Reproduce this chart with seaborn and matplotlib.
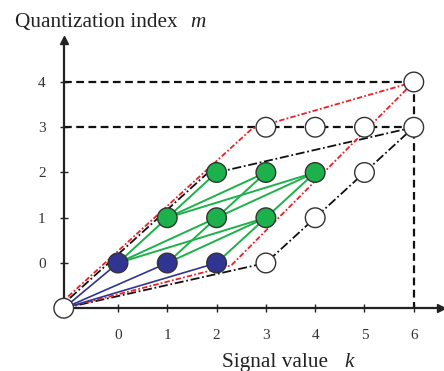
import matplotlib
matplotlib.use("Agg")
import matplotlib.pyplot as plt
import pandas as pd
import seaborn as sns

# trellis nodes (signal value k, quantization index m)
origin = (-1.1, -1)
blue_k = [0, 1, 2]
blue_m = [0, 0, 0]
green_k = [1, 2, 3, 2, 3, 4]
green_m = [1, 1, 1, 2, 2, 2]
white_k = [3, 4, 5, 3, 4, 5, 6, 6]
white_m = [0, 1, 2, 3, 3, 3, 3, 4]

# green transitions: (k_from, m_from) -> (k_to, m_to)
green_from = [(0, 0), (0, 0), (0, 0), (1, 0), (1, 0), (2, 0),
              (1, 1), (1, 1), (1, 1), (2, 1), (2, 1), (3, 1)]
green_to = [(1, 1), (2, 1), (3, 1), (2, 1), (3, 1), (3, 1),
            (2, 2), (3, 2), (4, 2), (3, 2), (4, 2), (4, 2)]

# region boundaries (drawn just beside the node edges, as in the figure)
black_path = [origin, (3, 0), (6, 3), (2, 2), (1.82, 1.99), (-1.05, -0.85)]
red_path = [origin, (2.3, -0.05), (6, 4), (2.72, 2.97), (-1.05, -0.78)]

x_ticks = [0, 1, 2, 3, 4, 5, 6]
y_ticks = [0, 1, 2, 3, 4]

BLUE = "#2f3590"
GREEN = "#1db14b"
RED = "#ec2027"

sns.set_theme(style="white")
plt.rcParams["font.family"] = ["Liberation Serif", "DejaVu Serif"]

fig = plt.figure(figsize=(4.44, 3.71), dpi=100)
ax = fig.add_axes([0, 0, 1, 1])
ax.set_xlim(-2.393, 6.613)
ax.set_ylim(-2.387, 5.812)

# axes drawn as spines through the origin node
for s in ["top", "right"]:
    ax.spines[s].set_visible(False)
ax.spines["left"].set_position(("data", origin[0]))
ax.spines["bottom"].set_position(("data", origin[1]))
ax.spines["left"].set_bounds(origin[1], 4.9)
ax.spines["bottom"].set_bounds(origin[0], 6.5)
for s in ["left", "bottom"]:
    ax.spines[s].set_color("#222222")
    ax.spines[s].set_linewidth(1.6)
ax.plot(origin[0], 4.93, marker="^", color="#222222", ms=6, clip_on=False, zorder=3)
ax.plot(6.55, origin[1], marker=">", color="#222222", ms=6, clip_on=False, zorder=3)

ax.set_xticks(x_ticks)
ax.set_yticks(y_ticks)
ax.tick_params(axis="both", direction="inout", length=6, width=1.0,
               colors="#222222", labelsize=11, labelcolor="#333333")
ax.tick_params(axis="y", pad=10, left=True)
ax.tick_params(axis="x", pad=12, bottom=True)

# dashed guides
dash = dict(color="#111111", lw=1.6, ls=(0, (3.5, 2)), zorder=1)
ax.plot([origin[0], 6], [4, 4], **dash)
ax.plot([origin[0], 6], [3, 3], **dash)
ax.plot([6, 6], [4, origin[1]], **dash)

# boundaries
ax.plot([p[0] for p in black_path], [p[1] for p in black_path],
        color="#111111", lw=1.3, ls=(0, (5, 1.5, 1, 1.5)), zorder=2)
ax.plot([p[0] for p in red_path], [p[1] for p in red_path],
        color=RED, lw=1.3, ls=(0, (3, 1.2, 1, 1.2)), zorder=2)

# blue transitions from origin
for k, m in zip(blue_k, blue_m):
    ax.plot([origin[0], k], [origin[1], m], color=BLUE, lw=1.2, zorder=2)

# green transitions
for (k0, m0), (k1, m1) in zip(green_from, green_to):
    ax.plot([k0, k1], [m0, m1], color=GREEN, lw=1.4, zorder=2)

nodes = pd.DataFrame({
    "k": [origin[0]] + blue_k + green_k + white_k,
    "m": [origin[1]] + blue_m + green_m + white_m,
    "kind": ["white"] + ["blue"] * len(blue_k) + ["green"] * len(green_k)
            + ["white"] * len(white_k),
})
sns.scatterplot(data=nodes, x="k", y="m", hue="kind",
                palette={"blue": BLUE, "green": GREEN, "white": "white"},
                s=200, edgecolor="#333333", linewidth=1.0, legend=False,
                zorder=5, clip_on=False, ax=ax)
ax.set_xlabel("")
ax.set_ylabel("")

W, H = 444, 371
fig.text(15 / W, 1 - 27 / H, "Quantization index", fontsize=15.3,
         color="#222222", va="baseline", ha="left")
fig.text(190 / W, 1 - 27 / H, "m", fontsize=15.3, fontstyle="italic",
         color="#222222", va="baseline", ha="left")
fig.text(222 / W, 1 - 367 / H, "Signal value", fontsize=15.3,
         color="#222222", va="baseline", ha="left")
fig.text(344 / W, 1 - 367 / H, "k", fontsize=15.3, fontstyle="italic",
         color="#222222", va="baseline", ha="left")

fig.savefig("out.png", dpi=100)
